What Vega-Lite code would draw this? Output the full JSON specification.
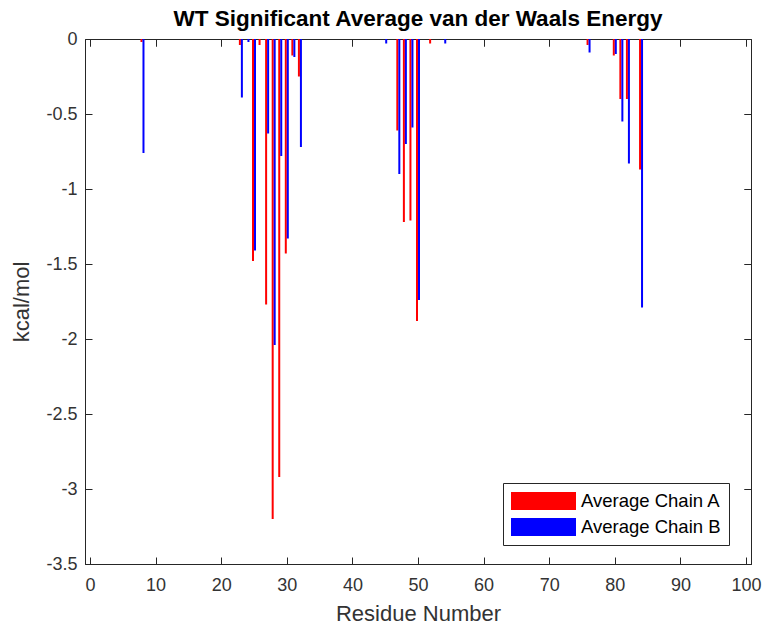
{
  "$schema": "https://vega.github.io/schema/vega-lite/v6.json",
  "autosize": "none",
  "width": 666,
  "height": 525,
  "padding": {"left": 85, "top": 39, "right": 22, "bottom": 67},
  "background": "white",
  "title": {
    "text": "WT Significant Average van der Waals Energy",
    "font": "Liberation Sans",
    "fontSize": 22.5,
    "fontWeight": "bold",
    "color": "#000000",
    "offset": -2,
    "anchor": "middle"
  },
  "config": {
    "view": {"stroke": "#262626", "strokeWidth": 1},
    "axis": {
      "labelFont": "Liberation Sans",
      "labelFontSize": 18,
      "labelColor": "#333333",
      "titleFont": "Liberation Sans",
      "titleFontSize": 22,
      "titleFontWeight": "normal",
      "titleColor": "#333333",
      "grid": false,
      "domainColor": "#262626",
      "tickColor": "#262626",
      "tickWidth": 1,
      "tickSize": -7
    },
    "axisTop": {"labels": false, "domain": false, "titleOpacity": 0, "titleFontSize": 1, "titlePadding": 0, "tickSize": -7, "tickColor": "#262626"},
    "axisRight": {"labels": false, "domain": false, "titleOpacity": 0, "titleFontSize": 1, "titlePadding": 0, "tickSize": -7, "tickColor": "#262626"}
  },
  "data": {
    "values": [
      {"residue": 8, "chain": "Average Chain A", "energy": -0.02},
      {"residue": 8, "chain": "Average Chain B", "energy": -0.76},
      {"residue": 23, "chain": "Average Chain A", "energy": -0.04},
      {"residue": 23, "chain": "Average Chain B", "energy": -0.39},
      {"residue": 24, "chain": "Average Chain A", "energy": 0.0},
      {"residue": 24, "chain": "Average Chain B", "energy": -0.02},
      {"residue": 25, "chain": "Average Chain A", "energy": -1.48},
      {"residue": 25, "chain": "Average Chain B", "energy": -1.41},
      {"residue": 26, "chain": "Average Chain A", "energy": -0.04},
      {"residue": 26, "chain": "Average Chain B", "energy": 0.0},
      {"residue": 27, "chain": "Average Chain A", "energy": -1.77},
      {"residue": 27, "chain": "Average Chain B", "energy": -0.63},
      {"residue": 28, "chain": "Average Chain A", "energy": -3.2},
      {"residue": 28, "chain": "Average Chain B", "energy": -2.04},
      {"residue": 29, "chain": "Average Chain A", "energy": -2.92},
      {"residue": 29, "chain": "Average Chain B", "energy": -0.78},
      {"residue": 30, "chain": "Average Chain A", "energy": -1.43},
      {"residue": 30, "chain": "Average Chain B", "energy": -1.33},
      {"residue": 31, "chain": "Average Chain A", "energy": -0.11},
      {"residue": 31, "chain": "Average Chain B", "energy": -0.12},
      {"residue": 32, "chain": "Average Chain A", "energy": -0.25},
      {"residue": 32, "chain": "Average Chain B", "energy": -0.72},
      {"residue": 45, "chain": "Average Chain A", "energy": 0.0},
      {"residue": 45, "chain": "Average Chain B", "energy": -0.03},
      {"residue": 47, "chain": "Average Chain A", "energy": -0.61},
      {"residue": 47, "chain": "Average Chain B", "energy": -0.9},
      {"residue": 48, "chain": "Average Chain A", "energy": -1.22},
      {"residue": 48, "chain": "Average Chain B", "energy": -0.7},
      {"residue": 49, "chain": "Average Chain A", "energy": -1.21},
      {"residue": 49, "chain": "Average Chain B", "energy": -0.59},
      {"residue": 50, "chain": "Average Chain A", "energy": -1.88},
      {"residue": 50, "chain": "Average Chain B", "energy": -1.74},
      {"residue": 52, "chain": "Average Chain A", "energy": -0.03},
      {"residue": 52, "chain": "Average Chain B", "energy": 0.0},
      {"residue": 54, "chain": "Average Chain A", "energy": 0.0},
      {"residue": 54, "chain": "Average Chain B", "energy": -0.03},
      {"residue": 76, "chain": "Average Chain A", "energy": -0.04},
      {"residue": 76, "chain": "Average Chain B", "energy": -0.09},
      {"residue": 80, "chain": "Average Chain A", "energy": -0.11},
      {"residue": 80, "chain": "Average Chain B", "energy": -0.1},
      {"residue": 81, "chain": "Average Chain A", "energy": -0.4},
      {"residue": 81, "chain": "Average Chain B", "energy": -0.55},
      {"residue": 82, "chain": "Average Chain A", "energy": -0.4},
      {"residue": 82, "chain": "Average Chain B", "energy": -0.83},
      {"residue": 84, "chain": "Average Chain A", "energy": -0.87},
      {"residue": 84, "chain": "Average Chain B", "energy": -1.79}
    ]
  },
  "encoding": {
    "x": {
      "field": "residue",
      "type": "quantitative",
      "scale": {"domain": [0, 100], "nice": false, "zero": false},
      "axis": {
        "title": "Residue Number",
        "values": [0, 10, 20, 30, 40, 50, 60, 70, 80, 90, 100],
        "labelPadding": 19,
        "titlePadding": 9
      }
    },
    "y": {
      "field": "energy",
      "type": "quantitative",
      "scale": {"domain": [-3.5, 0], "nice": false},
      "axis": {
        "title": "kcal/mol",
        "values": [-3.5, -3, -2.5, -2, -1.5, -1, -0.5, 0],
        "labelExpr": "'' + datum.value",
        "labelPadding": 15,
        "titlePadding": 12
      }
    },
    "color": {
      "field": "chain",
      "type": "nominal",
      "scale": {"domain": ["Average Chain A", "Average Chain B"], "range": ["#ff0000", "#0000ff"]},
      "legend": {
        "title": null,
        "orient": "none",
        "legendX": 418,
        "legendY": 444,
        "symbolType": "M-1,-0.9H5.5V0.9H-1Z",
        "symbolSize": 400,
        "symbolStrokeWidth": 0,
        "labelOffset": 50,
        "labelFont": "Liberation Sans",
        "labelFontSize": 18.5,
        "labelColor": "#000000",
        "rowPadding": 6,
        "strokeColor": "#262626",
        "fillColor": "white",
        "padding": 8
      }
    }
  },
  "layer": [
    {
      "transform": [{"filter": "datum.chain == 'Average Chain A'"}],
      "mark": {"type": "bar", "width": 2, "xOffset": -1},
      "encoding": {"y2": {"datum": 0}}
    },
    {
      "transform": [{"filter": "datum.chain == 'Average Chain B'"}],
      "mark": {"type": "bar", "width": 2, "xOffset": 1},
      "encoding": {"y2": {"datum": 0}}
    },
    {
      "mark": {"type": "point", "opacity": 0},
      "encoding": {
        "x": {
          "field": "residue",
          "type": "quantitative",
          "axis": {"orient": "top", "title": "", "labels": false, "domain": false, "values": [0, 10, 20, 30, 40, 50, 60, 70, 80, 90, 100]}
        },
        "y": {
          "field": "energy",
          "type": "quantitative",
          "axis": {"orient": "right", "title": "", "labels": false, "domain": false, "values": [-3.5, -3, -2.5, -2, -1.5, -1, -0.5, 0]}
        },
        "color": {"value": "transparent"}
      }
    }
  ],
  "resolve": {"axis": {"x": "independent", "y": "independent"}}
}
